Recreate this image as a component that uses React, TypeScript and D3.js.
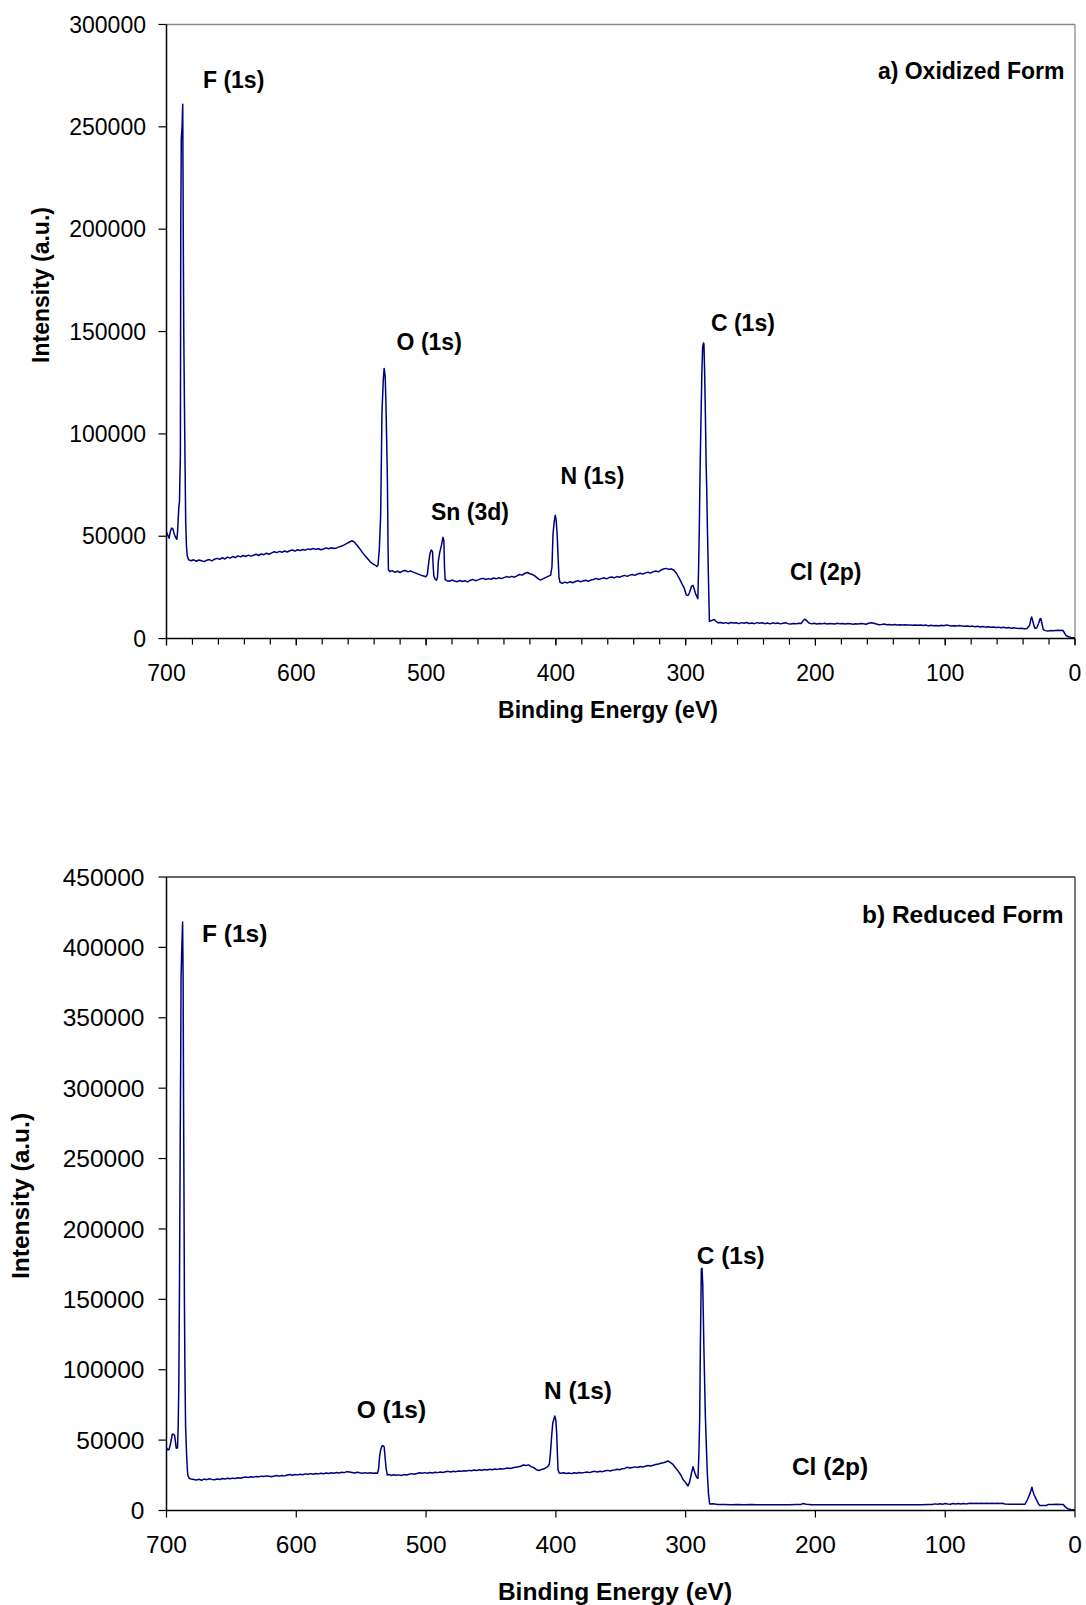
import React from "react";
import * as d3 from "d3";

// ---------- DATA ----------
// Binding energy (eV), intensity (a.u.)
const oxidizedSpectrum: [number, number][] = [
  [700,52000],[699,50500],[698,49000],[697,52500],[696,54000],[695,53500],[694,51000],[693,49500],[692,48500],[691.5,52000],
  [690.5,64000],[690,67000],[689.3,90000],[689,200000],[688.6,244000],[688,250000],[687.5,261000],[687.1,200000],[686.7,150000],
  [686.2,116000],[685.7,85000],[685.2,57000],[684.6,45000],[684,40500],[683,38500],[681,38000],[679,38500],[677,37800],[675,38400],
  [673,38000],[671,37600],[669,38300],[667,38600],[665,38000],[663,38800],[661,39200],[659,38700],[657,39500],[655,38900],[653,39800],
  [651,39300],[649,40100],[647,39600],[645,40400],[643,39900],[641,40600],[639,40100],[637,40800],[635,40300],[633,40700],[631,41200],
  [629,40600],[627,41400],[625,41000],[623,41700],[621,41200],[619,41900],[617,42400],[615,42000],[613,42600],[611,42200],[609,42800],
  [607,42300],[605,42900],[603,43300],[601,42700],[599,43400],[597,43000],[595,43500],[593,43200],[591,43800],[589,43500],[587,44000],
  [585,43600],[583,43900],[581,43400],[579,43800],[577,44300],[575,43900],[573,44400],[571,44000],[569,44300],[567,44800],[565,45200],
  [563,45800],[561,46500],[559,47200],[557,47800],[555,47000],[553,45500],[551,43800],[549,42000],[547,40500],[545,39000],[543,37500],
  [541,36500],[539,35800],[538,35200],[537,36000],[536,44000],[535,60000],[534.5,84000],[534,110000],[533,126000],[532.3,132000],
  [531.5,128000],[531,117000],[530.3,95000],[529.8,78000],[529.3,45000],[529,33500],[528,32800],[526,33200],[524,32400],[522,32900],
  [520,32300],[518,33000],[516,33300],[514,32600],[512,33100],[510,32500],[508,32000],[506,31500],[504,31000],[502,30600],[500,30200],
  [499,31500],[498,37000],[497,41500],[496,43300],[495,42500],[494.5,35000],[494,30500],[493,29000],[492,28500],[491.2,30000],[490.5,38000],
  [489.5,42000],[488,46000],[487,49500],[486.3,48000],[485.8,35000],[485.3,28800],[484,28300],[482,28000],[480,28600],[478,28100],
  [476,27800],[474,28400],[472,27900],[470,28300],[468,27700],[466,28500],[464,28900],[462,28300],[460,28700],[458,29200],[456,29400],
  [454,28900],[452,29300],[450,29000],[448,29600],[446,29200],[444,29700],[442,29300],[440,29800],[438,30300],[436,29900],[434,30400],
  [432,30000],[430,30600],[428,31300],[426,31000],[424,31800],[422,32300],[420,31700],[418,31300],[416,30500],[414,29400],[412,28600],
  [410,29200],[408,29800],[406,30400],[404,31000],[403,35000],[402.2,51000],[401.3,57000],[400.5,60300],[399.8,58000],[399,51000],
  [398.3,40000],[397.6,30000],[396.8,27500],[395,27000],[393,27600],[391,27200],[389,27800],[387,27300],[385,27900],[383,28300],
  [381,27800],[379,28100],[377,28500],[375,28000],[373,28600],[371,28900],[369,29400],[367,28900],[365,29300],[363,29700],[361,29200],
  [359,29800],[357,30100],[355,29700],[353,30300],[351,30000],[349,30500],[347,30900],[345,30400],[343,31000],[341,31300],[339,30900],
  [337,31600],[335,31900],[333,31500],[331,32100],[329,32400],[327,32000],[325,32700],[323,33000],[321,32600],[319,33500],[317,34000],
  [315,34300],[313,33800],[311,34100],[309,33400],[307,31800],[305,29500],[303,27000],[301,24500],[299.5,21300],[298,21200],[297,22500],
  [295.5,25500],[294.3,26000],[293.3,24000],[292.4,22000],[290.6,19500],[290,35000],[289.5,53000],[288.8,85000],[288.2,106600],
  [287.5,130000],[286.9,142500],[286.2,144400],[285.9,144000],[285.3,128000],[284.8,110000],[284.2,85000],[283.8,74000],[283.1,50000],
  [282.4,28500],[281.7,8500],[280,8800],[278,9300],[276.5,8400],[275,7700],[273,7900],[271,7500],[269,7800],[267,7400],[265,7900],
  [263,7600],[261,7700],[259,7300],[257,7800],[255,7500],[253,7900],[251,7400],[249,7600],[247,7300],[245,7800],[243,7500],[241,7700],
  [239,7300],[237,7600],[235,7200],[233,7700],[231,7400],[229,7600],[227,7200],[225,7500],[223,7700],[221,7300],[219,7100],[217,7400],
  [215,7200],[213,7500],[211,7400],[209.5,8700],[208.3,9500],[207,8900],[205,7600],[203,7200],[201,7500],[199,7100],[197,7400],
  [195,7200],[193,7500],[191,7100],[189,7400],[187,7300],[185,7100],[183,7500],[181,7200],[179,7400],[177,7100],[175,7400],[173,7200],
  [171,7000],[169,7300],[167,7100],[165,7400],[163,7200],[161,7000],[159,7500],[157,7700],[155,7500],[153,7100],[151,6800],[149,6900],
  [147,7100],[145,6800],[143,6900],[141,6700],[139,6900],[137,6700],[135,6800],[133,6600],[131,6800],[129,6600],[127,6700],[125,6500],
  [123,6700],[121,6500],[119,6600],[117,6400],[115,6600],[113,6200],[111,6500],[109,6300],[107,6400],[105,6200],[103,6500],[101,6300],
  [99,6700],[97,6400],[95,6200],[93,6300],[91,6100],[89,6400],[87,6100],[85,6000],[83,6200],[81,5900],[79,6100],[77,5800],[75,6000],
  [73,5700],[71,5900],[69,5600],[67,5800],[65,5500],[63,5700],[61,5400],[59,5600],[57,5300],[55,5500],[53,5200],[51,5400],[49,5100],
  [47,5300],[45,5000],[43,4900],[41,5100],[39,4800],[37,4900],[35,6500],[34,9500],[33.4,10600],[32.5,8500],[31.5,6000],[30.8,5000],
  [29.5,5200],[28,7500],[27,9600],[26.3,9800],[25.5,7500],[24.5,4500],[23,3900],[21,3700],[19,3900],[17,3800],[15,4000],[13,4100],
  [11,4000],[9.5,4100],[8.5,3200],[7,1600],[5,900],[3,600],[1,400],[0,300],
];

const reducedSpectrum: [number, number][] = [
  [700,44500],[699,43000],[698,43500],[697,47000],[696,52000],[695.5,54400],[694.5,54000],[693.8,53500],[693,48000],[692.5,44200],
  [691.5,44500],[691,60000],[690.5,90000],[690,160000],[689.5,250000],[689,330000],[688.8,378000],[688.2,400000],[687.6,418000],
  [687.2,380000],[686.9,300000],[686.5,220000],[686.2,150000],[685.8,100000],[685.3,60000],[684.6,41800],[684,30000],[683.6,25200],
  [682.6,22900],[681,22400],[679,22000],[677,21600],[675,22200],[673,21500],[671,22300],[669,21900],[667,22600],[665,22100],[663,21800],
  [661,22400],[659,22000],[657,22700],[655,22300],[653,22900],[651,22500],[649,23000],[647,22700],[645,23300],[643,22900],[641,23500],
  [639,23800],[637,23400],[635,24000],[633,23700],[631,24200],[629,23900],[627,24400],[625,24100],[623,24600],[621,24300],[619,24000],
  [617,24500],[615,24800],[613,24400],[611,24900],[609,24600],[607,25200],[605,25500],[603,25100],[601,25600],[599,25300],[597,25800],
  [595,25400],[593,26000],[591,25700],[589,26200],[587,25800],[585,26300],[583,26000],[581,26500],[579,26100],[577,26600],[575,26300],
  [573,26800],[571,26500],[569,27000],[567,26700],[565,27200],[563,26900],[561,27600],[559,27300],[557,27000],[555,26700],[553,27200],
  [551,26800],[549,26500],[547,26900],[545,26500],[543,26800],[541,26400],[539,26700],[537.5,26400],[536.5,30000],[535.8,38500],
  [535,43000],[534,45800],[533,46000],[532.3,45200],[531.6,38000],[530.8,30000],[529.8,25200],[528.5,25600],[527,24900],[525,25400],
  [523,25000],[521,25300],[519,24900],[517,25500],[515,25200],[513,25800],[511,26200],[509,25700],[507,26300],[505,26800],[503,26400],
  [501,26900],[499,26500],[497,27000],[495,26700],[493,27200],[491,26900],[489,27300],[487,27000],[485,27500],[483,27800],[481,27400],
  [479,27900],[477,27600],[475,28100],[473,27800],[471,28300],[469,28000],[467,28500],[465,28200],[463,28700],[461,28400],[459,28900],
  [457,28600],[455,29100],[453,28800],[451,29300],[449,29000],[447,29500],[445,29200],[443,29700],[441,29400],[439,29900],[437,30200],
  [435,29800],[433,30300],[431,30800],[429,31100],[427,31400],[425,32300],[423,32000],[421,32400],[419,31200],[417,30400],[415,29000],
  [413,28400],[411,29200],[409,29600],[407,30800],[406,31500],[405,33000],[404.2,40600],[403.3,52000],[402.4,62000],[401.5,65000],
  [400.8,67200],[400,64000],[399.3,53700],[398.8,40000],[398.3,28800],[397.4,26700],[396.4,26400],[394,26800],[392,26300],[390,26700],
  [388,26200],[386,26800],[384,26500],[382,27000],[380,26600],[378.5,26900],[376,27300],[374,26900],[372,27500],[370,27800],[368,27300],
  [366,27900],[364,27600],[362,28200],[360,28500],[358,28100],[356,28700],[354,29000],[352.8,29300],[351,29000],[349,29600],[347,29900],
  [345,30700],[343,30200],[341,30600],[339,31000],[337,30600],[335,31200],[333,30900],[331,31500],[329,31900],[327,31600],[325,32200],
  [323,32600],[321,33000],[319,33500],[317,33900],[315,34600],[313.6,35200],[312,34200],[310,33000],[308.5,31100],[306,28300],
  [304,25600],[302,22000],[300,19800],[298.2,17400],[297,20000],[295.5,26500],[294.3,31100],[293,27000],[291.5,23500],[290.5,22900],
  [289.8,40000],[289.2,64300],[288.6,120000],[287.9,171600],[287.4,172100],[286.8,160000],[285.9,114000],[284.8,66800],[284,45000],
  [283.3,26500],[282.4,12000],[281.5,4600],[279,4800],[277.6,4600],[275,4300],[270,4200],[265,4100],[260,4200],[255,4100],[250,4200],
  [245,4000],[240,4100],[235,4100],[230,4000],[225,4100],[220,4100],[215,4200],[211,4300],[209.5,5000],[207,4400],[203,4100],[198,4100],
  [193,4000],[188,4100],[183,4100],[178,4000],[173,4100],[168,4100],[163,4000],[158,4100],[153,4100],[148,4000],[143,4100],[138,4100],
  [133,4000],[128,4100],[123,4100],[118,4100],[113,4200],[110,4300],[108,4700],[106,4400],[104,4800],[102,4500],[100,4900],[98,4600],
  [96,4500],[94,4900],[92,4600],[90,4900],[88,4600],[86,5000],[84,4700],[82,4900],[80,5100],[78,4900],[76,5100],[74,5000],[72,5100],
  [70,5000],[68,5100],[66,5000],[64,5100],[62,5000],[60,5100],[58,5000],[56,5100],[54,4600],[50,4500],[46,4500],[42,4400],[38.6,4400],
  [36.5,8000],[34.5,12500],[33.2,16500],[32.5,14000],[31.5,11000],[29.6,7500],[28,4500],[27,3500],[24,3500],[22,3600],[20.6,4300],
  [17,4300],[14,4400],[11,4300],[9,4300],[7.5,2500],[5.1,1000],[3,700],[0,400],
];

const xTicks = [700, 600, 500, 400, 300, 200, 100, 0];
const xMinorTicksTop = d3.range(700, -1, -20);
const yTicksTop = [0, 50000, 100000, 150000, 200000, 250000, 300000];
const yTicksBottom = [0, 50000, 100000, 150000, 200000, 250000, 300000, 350000, 400000, 450000];

// annotations: [text, binding energy, intensity, anchor]
const labelsTop: [string, number, number, string][] = [
  ["F (1s)", 671.9, 269000, "start"],
  ["O (1s)", 522.7, 141000, "start"],
  ["Sn (3d)", 496.2, 57900, "start"],
  ["N (1s)", 396.5, 75500, "start"],
  ["C (1s)", 280.5, 150300, "start"],
  ["Cl (2p)", 219.6, 28600, "start"],
  ["a) Oxidized Form", 8.1, 273400, "end"],
];
const labelsBottom: [string, number, number, string][] = [
  ["F (1s)", 672.6, 404000, "start"],
  ["O (1s)", 553.5, 65700, "start"],
  ["N (1s)", 409.2, 79200, "start"],
  ["C (1s)", 291.5, 175200, "start"],
  ["Cl (2p)", 218.1, 25200, "start"],
  ["b) Reduced Form", 8.9, 417500, "end"],
];

const FONT = "'Liberation Sans', Arial, Helvetica, sans-serif";
const LINE = "#00007f";

type PanelProps = {
  data: [number, number][];
  yMax: number;
  yTicks: number[];
  top: number;
  bottom: number;
  fontSize: number;
  minor: number[];
  labels: [string, number, number, string][];
  frame: string;
  yLabelRight: number;
  xLabelBaseline: number;
  xTitleBaseline: number;
  xTitleX: number;
  yTitleX: number;
  yTitleY: number;
};

function Panel(p: PanelProps) {
  const left = 166.5;
  const right = 1075;
  const x = d3.scaleLinear().domain([700, 0]).range([left, right]);
  const y = d3.scaleLinear().domain([0, p.yMax]).range([p.bottom, p.top]);
  const line = d3
    .line<[number, number]>()
    .x((d) => x(d[0]))
    .y((d) => y(d[1]));
  return (
    <g fontFamily={FONT}>
      {/* frame */}
      <line x1={left} x2={right} y1={p.top} y2={p.top} stroke={p.frame} strokeWidth={1.3} />
      <line x1={right} x2={right} y1={p.top} y2={p.bottom} stroke={p.frame} strokeWidth={1.3} />
      <path d={line(p.data) || ""} fill="none" stroke={LINE} strokeWidth={1.5} strokeLinejoin="round" />
      {/* axes */}
      <line x1={left} x2={left} y1={p.top} y2={p.bottom} stroke="#000" strokeWidth={1.5} />
      <line x1={left} x2={right} y1={p.bottom} y2={p.bottom} stroke="#000" strokeWidth={1.5} />
      {p.yTicks.map((t) => (
        <g key={"y" + t}>
          <line x1={left - 8} x2={left} y1={y(t)} y2={y(t)} stroke="#000" strokeWidth={1.2} />
          <text x={p.yLabelRight} y={y(t)} dy="0.35em" textAnchor="end" fontSize={p.fontSize} fill="#000">
            {t}
          </text>
        </g>
      ))}
      {p.minor.map((t) => (
        <line key={"m" + t} x1={x(t)} x2={x(t)} y1={p.bottom} y2={p.bottom + 6} stroke="#000" strokeWidth={1.2} />
      ))}
      {xTicks.map((t) => (
        <g key={"x" + t}>
          <line x1={x(t)} x2={x(t)} y1={p.bottom} y2={p.bottom + 7} stroke="#000" strokeWidth={1.2} />
          <text x={x(t)} y={p.xLabelBaseline} textAnchor="middle" fontSize={p.fontSize} fill="#000">
            {t}
          </text>
        </g>
      ))}
      <text x={p.xTitleX} y={p.xTitleBaseline} textAnchor="middle" fontSize={p.fontSize} fontWeight="bold">
        Binding Energy (eV)
      </text>
      <text
        transform={`translate(${p.yTitleX},${p.yTitleY}) rotate(-90)`}
        textAnchor="middle"
        fontSize={p.fontSize}
        fontWeight="bold"
      >
        Intensity (a.u.)
      </text>
      {p.labels.map(([txt, be, val, anchor]) => (
        <text key={txt} x={x(be)} y={y(val)} textAnchor={anchor} fontSize={p.fontSize} fontWeight="bold" fill="#000">
          {txt}
        </text>
      ))}
    </g>
  );
}

export default function App() {
  return (
    <svg
      width={1086}
      height={1605}
      style={{ position: "absolute", left: 0, top: 0, background: "#fff" }}
    >
      <rect width={1086} height={1605} fill="#fff" />
      <Panel
        data={oxidizedSpectrum}
        yMax={300000}
        yTicks={yTicksTop}
        top={24.5}
        bottom={638.6}
        fontSize={23}
        minor={xMinorTicksTop}
        labels={labelsTop}
        frame="#8a8a8a"
        yLabelRight={146}
        xLabelBaseline={681}
        xTitleBaseline={718}
        xTitleX={608}
        yTitleX={48.5}
        yTitleY={285}
      />
      <Panel
        data={reducedSpectrum}
        yMax={450000}
        yTicks={yTicksBottom}
        top={877}
        bottom={1510.5}
        fontSize={24.5}
        minor={[]}
        labels={labelsBottom}
        frame="#333"
        yLabelRight={144.5}
        xLabelBaseline={1553}
        xTitleBaseline={1600}
        xTitleX={615}
        yTitleX={28.5}
        yTitleY={1196}
      />
    </svg>
  );
}
